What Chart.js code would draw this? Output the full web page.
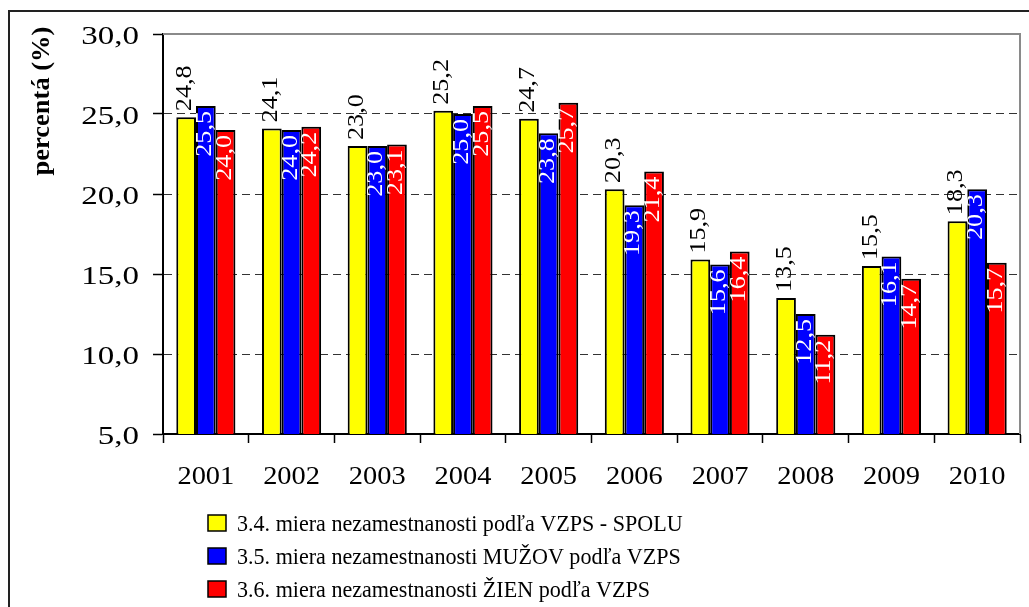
<!DOCTYPE html>
<html><head><meta charset="utf-8">
<script src="https://cdn.jsdelivr.net/npm/chart.js@4.4.0/dist/chart.umd.min.js"></script>
<style>html,body{margin:0;padding:0;background:#fff;overflow:hidden}</style>
</head><body>
<canvas id="c" width="1029" height="607"></canvas>
<script>
const years = ['2001','2002','2003','2004','2005','2006','2007','2008','2009','2010'];
const spolu = [24.8, 24.1, 23.0, 25.2, 24.7, 20.3, 15.9, 13.5, 15.5, 18.3];
const muzi  = [25.5, 24.0, 23.0, 25.0, 23.8, 19.3, 15.6, 12.5, 16.1, 20.3];
const zeny  = [24.0, 24.2, 23.1, 25.5, 25.7, 21.4, 16.4, 11.2, 14.7, 15.7];
const yTickValues = [5, 10, 15, 20, 25, 30];
const seriesNames = [
  '3.4. miera nezamestnanosti podľa VZPS - SPOLU',
  '3.5. miera nezamestnanosti MUŽOV podľa VZPS',
  '3.6. miera nezamestnanosti ŽIEN podľa VZPS'
];
const yTitle = 'percentá (%)';

const FONT = '"Liberation Serif", "Times New Roman", serif';
function fmt(v){ return v.toFixed(1).replace('.', ','); }
function drawText(ctx, text, x, y, o){
  ctx.save();
  ctx.translate(x, y);
  if (o.rot) ctx.rotate(o.rot);
  ctx.scale(o.sx || 1, 1);
  ctx.font = (o.bold ? 'bold ' : '') + o.size + 'px ' + FONT;
  ctx.fillStyle = o.color || '#000';
  ctx.textAlign = o.align || 'left';
  ctx.textBaseline = o.baseline || 'alphabetic';
  ctx.fillText(text, 0, 0);
  ctx.restore();
}

const decor = {
  id: 'decor',
  beforeDraw(chart){
    const ctx = chart.ctx;
    ctx.save();
    ctx.fillStyle = '#fff';
    ctx.fillRect(0, 0, chart.width, chart.height);
    ctx.strokeStyle = '#222';
    ctx.lineWidth = 2;
    ctx.beginPath();
    ctx.moveTo(9, chart.height); ctx.lineTo(9, 11); ctx.lineTo(chart.width, 11);
    ctx.stroke();
    ctx.restore();
  },
  afterDatasetsDraw(chart){
    const ctx = chart.ctx, a = chart.chartArea;
    ctx.save();
    ctx.strokeStyle = '#8a8a8a';
    ctx.lineWidth = 2;
    ctx.beginPath();
    ctx.moveTo(a.left, a.top); ctx.lineTo(a.right, a.top); ctx.lineTo(a.right, a.bottom);
    ctx.stroke();
    ctx.restore();
    chart.data.datasets.forEach((ds, di) => {
      const meta = chart.getDatasetMeta(di);
      meta.data.forEach((el, i) => {
        const t = fmt(ds.data[i]);
        if (di === 0) {
          drawText(ctx, t, el.x + 5, el.y - 6, {size: 24, sx: 1.09, rot: -Math.PI/2, align: 'left', color: '#000'});
        } else {
          drawText(ctx, t, el.x + 5, el.y + 5, {size: 24, sx: 1.09, rot: -Math.PI/2, align: 'right', color: '#fff'});
        }
      });
    });
  },
  afterDraw(chart){
    const ctx = chart.ctx;
    const ys = chart.scales.y, xs = chart.scales.x;
    yTickValues.forEach(v => {
      drawText(ctx, fmt(v), 139, ys.getPixelForValue(v) + 10, {size: 25, sx: 1.32, align: 'right'});
    });
    years.forEach((y, i) => {
      drawText(ctx, y, xs.getPixelForValue(i), 484, {size: 24.5, sx: 1.16, align: 'center'});
    });
    drawText(ctx, yTitle, 43, 101, {size: 25, sx: 1.06, bold: true, rot: -Math.PI/2, align: 'center', baseline: 'middle'});
    const rows = [531, 564, 597];
    chart.data.datasets.forEach((ds, di) => {
      const yb = rows[di];
      ctx.save();
      ctx.fillStyle = ds.backgroundColor;
      ctx.fillRect(208, yb - 16, 18, 16);
      ctx.strokeStyle = '#000';
      ctx.lineWidth = 1.5;
      ctx.strokeRect(208, yb - 16, 18, 16);
      ctx.restore();
      drawText(ctx, ds.label, 237, yb, {size: 24, sx: 0.92, align: 'left'});
    });
  }
};

new Chart(document.getElementById('c'), {
  type: 'bar',
  data: {
    labels: years,
    datasets: [
      {label: seriesNames[0], data: spolu, backgroundColor: '#FFFF00', borderColor: '#000', borderWidth: 2},
      {label: seriesNames[1], data: muzi,  backgroundColor: '#0000FF', borderColor: '#000', borderWidth: 2},
      {label: seriesNames[2], data: zeny,  backgroundColor: '#FF0000', borderColor: '#000', borderWidth: 2}
    ]
  },
  options: {
    responsive: false,
    devicePixelRatio: 1,
    animation: false,
    events: [],
    layout: {padding: {left: 153, top: 34, right: 9, bottom: 164}},
    datasets: {bar: {categoryPercentage: 0.69, barPercentage: 1.0}},
    plugins: {legend: {display: false}, tooltip: {enabled: false}},
    scales: {
      x: {
        type: 'category',
        offset: true,
        ticks: {display: false},
        grid: {offset: true, drawOnChartArea: false, drawTicks: true, tickLength: 9, color: '#000', tickColor: '#000', tickWidth: 1.5},
        border: {color: '#000', width: 2}
      },
      y: {
        min: 5, max: 30,
        ticks: {display: false, stepSize: 5},
        grid: {
          color: c => (c.tick && (c.tick.value === 5 || c.tick.value === 30)) ? 'rgba(0,0,0,0)' : '#333',
          lineWidth: 1,
          drawTicks: true, tickLength: 10, tickColor: '#000', tickWidth: 1.5, tickBorderDash: []
        },
        border: {color: '#000', width: 2, dash: [8, 5]}
      }
    }
  },
  plugins: [decor]
});
</script>
</body></html>
